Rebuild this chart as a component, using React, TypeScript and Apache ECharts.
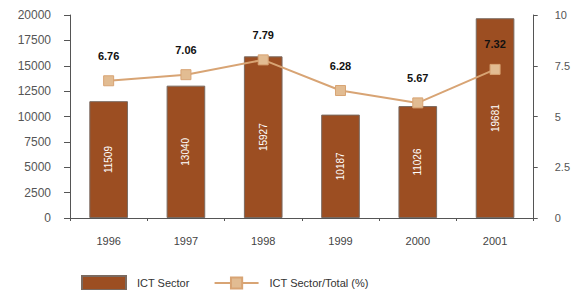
import React, { useEffect, useRef } from "react";
import * as echarts from "echarts";

const years = ["1996", "1997", "1998", "1999", "2000", "2001"];
const ictSector = [11509, 13040, 15927, 10187, 11026, 19681];
const ictShare = [6.76, 7.06, 7.79, 6.28, 5.67, 7.32];

export default function App() {
  const ref = useRef<HTMLDivElement>(null);
  useEffect(() => {
    const chart = echarts.init(ref.current!, null, { renderer: "svg" });
    const font = "Liberation Sans, Arial, sans-serif";
    chart.setOption({
      animation: false,
      textStyle: { fontFamily: font },
      grid: { left: 70, right: 36, top: 15, bottom: 72 },
      legend: {
        bottom: -6,
        left: 76,
        itemGap: 24,
        itemWidth: 44,
        itemHeight: 14,
        textStyle: { fontSize: 11, color: "#333", fontFamily: font, padding: [0, 0, 0, 6] },
        data: [
          { name: "ICT Sector", icon: "rect" },
          { name: "ICT Sector/Total (%)" },
        ],
      },
      xAxis: {
        type: "category",
        data: years,
        axisLine: { lineStyle: { color: "#555" } },
        axisTick: { show: true, length: 3, lineStyle: { color: "#555" } },
        axisLabel: { fontSize: 11, color: "#444", margin: 17, fontFamily: font },
      },
      yAxis: [
        {
          type: "value",
          min: 0,
          max: 20000,
          interval: 2500,
          splitLine: { show: false },
          axisLine: { show: true, lineStyle: { color: "#555" } },
          axisTick: { show: true, length: 6, lineStyle: { color: "#555" } },
          axisLabel: { fontSize: 12, color: "#555", margin: 19, fontFamily: font,
            formatter: (v: number) => String(v) },
        },
        {
          type: "value",
          min: 0,
          max: 10,
          interval: 2.5,
          position: "right",
          splitLine: { show: false },
          axisLine: { show: true, lineStyle: { color: "#555" } },
          axisTick: { show: true, length: 4, lineStyle: { color: "#555" } },
          axisLabel: { fontSize: 11, color: "#555", margin: 21, fontFamily: font,
            formatter: (v: number) => String(v) },
        },
      ],
      series: [
        {
          name: "ICT Sector",
          type: "bar",
          data: ictSector,
          barWidth: "50%",
          itemStyle: { color: "#9C4E22", borderColor: "#7a6a60", borderWidth: 1 },
          label: {
            show: true,
            position: "inside",
            rotate: 90,
            color: "#fff",
            fontSize: 10,
            fontFamily: font,
          },
        },
        {
          name: "ICT Sector/Total (%)",
          type: "line",
          yAxisIndex: 1,
          data: ictShare,
          symbol: "rect",
          symbolSize: 10,
          lineStyle: { color: "#D8A474", width: 2 },
          itemStyle: { color: "#E2BC92", borderColor: "#D8A474", borderWidth: 1 },
          label: {
            show: true,
            position: "top",
            distance: 14,
            color: "#111",
            fontWeight: "bold",
            fontSize: 11,
            fontFamily: font,
            formatter: (p: any) => p.value.toFixed(2),
          },
        },
      ],
    });
    return () => chart.dispose();
  }, []);
  return <div ref={ref} style={{ width: 573, height: 290, position: "absolute", left: 0, top: 0 }} />;
}
